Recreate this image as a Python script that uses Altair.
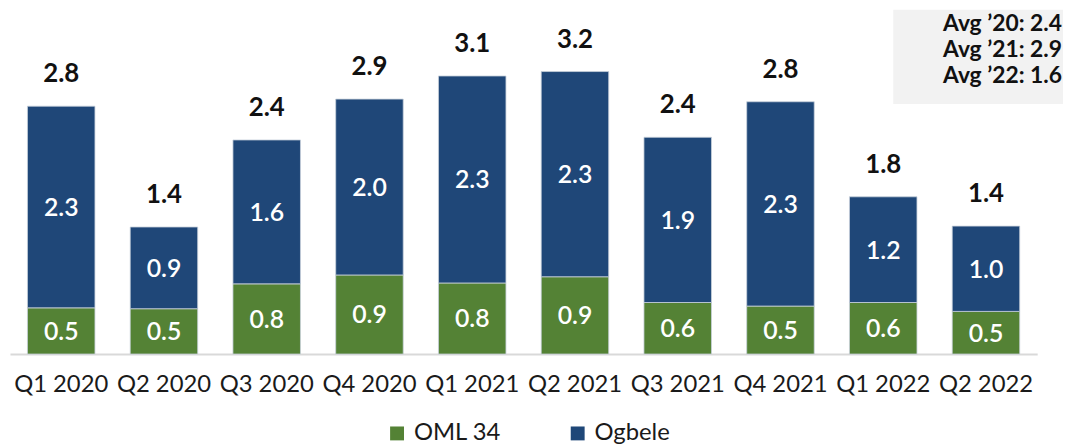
import altair as alt
import pandas as pd

quarters = ["Q1 2020", "Q2 2020", "Q3 2020", "Q4 2020", "Q1 2021",
            "Q2 2021", "Q3 2021", "Q4 2021", "Q1 2022", "Q2 2022"]
oml34 = [0.52, 0.51, 0.79, 0.89, 0.80, 0.87, 0.58, 0.54, 0.58, 0.48]
ogbele = [2.27, 0.92, 1.62, 1.98, 2.33, 2.31, 1.86, 2.30, 1.19, 0.96]
series = ["OML 34", "Ogbele"]
colors = ["#548235", "#1F4778"]
avg_lines = ["Avg \u201920: 2.4", "Avg \u201921: 2.9", "Avg \u201922: 1.6"]

FONT = "Lato"

rows = []
for i, q in enumerate(quarters):
    rows.append({"quarter": q, "series": series[0], "value": oml34[i], "ord": 0})
    rows.append({"quarter": q, "series": series[1], "value": ogbele[i], "ord": 1})
df = pd.DataFrame(rows)

tot = pd.DataFrame({"quarter": quarters,
                    "total": [a + b for a, b in zip(oml34, ogbele)]})
avg = pd.DataFrame({"line": avg_lines, "idx": [0, 1, 2]})

W, H = 1035, 347
ymax = 3.877

xenc = alt.X("quarter:N", sort=quarters,
             scale=alt.Scale(paddingInner=0.343, paddingOuter=0.17),
             axis=alt.Axis(title=None, labelAngle=0, ticks=False, labelPadding=38,
                           labelBaseline="alphabetic", labelFont=FONT, labelFontSize=24,
                           labelColor="#1a1a1a", domainColor="#d9d9d9", domainWidth=2))
yscale = alt.Scale(domain=[0, ymax], nice=False, zero=True)

bars = alt.Chart(df).mark_bar(stroke="#c9d2dc", strokeWidth=0.8).encode(
    x=xenc,
    y=alt.Y("value:Q", stack="zero", scale=yscale, axis=None),
    color=alt.Color("series:N", sort=series,
                    scale=alt.Scale(domain=series, range=colors),
                    legend=alt.Legend(title=None, orient="none", legendX=378, legendY=415,
                                      direction="horizontal", symbolType="square",
                                      symbolSize=196, symbolStrokeWidth=0,
                                      labelFont=FONT, labelFontSize=24, labelColor="#1a1a1a",
                                      labelOffset=5, columnPadding=65, padding=0)),
    order=alt.Order("ord:Q", sort="ascending"),
)

inner = alt.Chart(df).transform_stack(
    stack="value", groupby=["quarter"], as_=["y0", "y1"],
    sort=[alt.SortField("ord", order="ascending")]
).transform_calculate(
    mid="(datum.y0 + datum.y1) / 2"
).mark_text(font=FONT, fontSize=25, fontWeight=600, color="white",
            baseline="alphabetic", dy=9).encode(
    x=alt.X("quarter:N", sort=quarters),
    y=alt.Y("mid:Q", scale=yscale, axis=None),
    text=alt.Text("value:Q", format=".1f"),
)

totals = alt.Chart(tot).mark_text(font=FONT, fontSize=26, fontWeight="bold",
                                  color="#111111", baseline="alphabetic", dy=-24).encode(
    x=alt.X("quarter:N", sort=quarters),
    y=alt.Y("total:Q", scale=yscale, axis=None),
    text=alt.Text("total:Q", format=".1f"),
)

box = alt.Chart(avg).transform_filter("datum.idx == 0").mark_rect(color="#f2f2f2").encode(
    x=alt.value(890), x2=alt.value(1061), y=alt.value(0), y2=alt.value(95),
)

avg_layers = []
for i, ypos in enumerate([15, 41, 67]):
    avg_layers.append(
        alt.Chart(avg).transform_filter(f"datum.idx == {i}").mark_text(
            font=FONT, fontSize=23, fontWeight="bold", color="#111111",
            align="right", baseline="middle").encode(
            x=alt.value(1060), y=alt.value(ypos), text="line:N")
    )

chart = alt.layer(bars, inner, totals, box, *avg_layers).properties(
    width=W, height=H,
    autosize=alt.AutoSizeParams(type="none"),
    padding={"left": 2, "top": 0, "right": 26, "bottom": 90},
    background="white",
).configure_view(stroke=None)

chart.save("out.html", embed_options={"renderer": "svg", "actions": False})
